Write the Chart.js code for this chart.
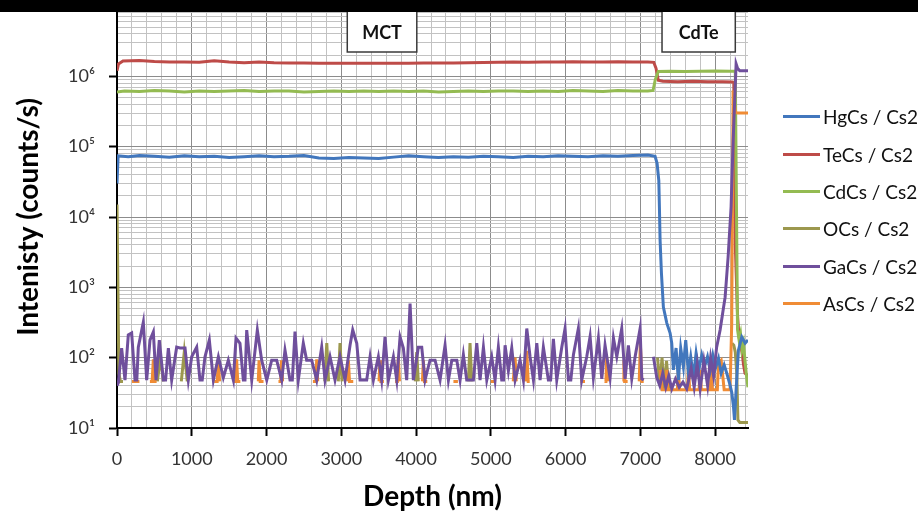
<!DOCTYPE html>
<html>
<head>
<meta charset="utf-8">
<title>SIMS depth profile</title>
<script src="https://cdn.jsdelivr.net/npm/chart.js@4.4.0/dist/chart.umd.min.js"></script>
<style>
  html, body { margin: 0; padding: 0; background: #fff; }
  #wrap { position: relative; width: 918px; height: 516px; overflow: hidden; font-family: Lato, "DejaVu Sans", sans-serif; }
  #chart { position: absolute; left: 0; top: 0; }
  #topBar { position: absolute; left: 0; top: 0; width: 918px; height: 12px; background: #000; }
  #legend { position: absolute; left: 783px; top: 98px; }
  .legend-item { height: 37.4px; display: flex; align-items: center; font-size: 19px; color: #111; white-space: nowrap; }
  .legend-line { width: 37px; height: 3px; margin-right: 3px; }
</style>
</head>
<body>
<div id="wrap">
  <canvas id="chart" width="918" height="516"></canvas>
  <div id="legend"></div>
  <div id="topBar"></div>
</div>
<script>
// axis ticks
const depthTicks = [0, 1000, 2000, 3000, 4000, 5000, 6000, 7000, 8000];
const yDecades = [10, 100, 1000, 10000, 100000, 1000000, 10000000];
const yTickLabels = ['10\u00b9', '10\u00b2', '10\u00b3', '10\u2074', '10\u2075', '10\u2076', '10\u2077'];

// layer labels (depth range in nm)
const layerNames = ['MCT', 'CdTe'];
const layerStart = [3080, 7290];
const layerEnd = [4010, 8270];

const seriesNames = ['HgCs / Cs2', 'TeCs / Cs2', 'CdCs / Cs2', 'OCs / Cs2', 'GaCs / Cs2', 'AsCs / Cs2'];
const seriesColors = ['#4277bd', '#be4b48', '#94bb52', '#9c984e', '#6f4f9c', '#f08c35'];
const drawOrder = [2, 6, 5, 4, 1, 3];

// HgCs
const hgDepth = [0, 15, 150, 300, 500, 700, 900, 1100, 1300, 1500, 1700, 1900, 2100, 2300, 2500, 2700, 2900, 3100, 3300, 3500,
  3700, 3900, 4100, 4300, 4500, 4700, 4900, 5100, 5300, 5500, 5700, 5900, 6100, 6300, 6500, 6700, 6900, 7100,
  7197, 7224, 7247, 7255, 7264, 7282, 7308, 7354, 7398, 7420, 7442, 7478, 7509, 7540, 7576, 7607, 7643, 7674,
  7710, 7746, 7781, 7821, 7857, 7898, 7933, 7969, 8005, 8045, 8081, 8121, 8156, 8192, 8223, 8246, 8259, 8281,
  8312, 8357, 8402, 8440];
const hgValues = [3.0e4, 7.4e4, 7.2e4, 7.5e4, 7.3e4, 7.1e4, 7.4e4, 7.2e4, 7.3e4, 7.0e4, 7.2e4, 7.4e4, 7.2e4, 7.3e4, 7.5e4, 6.9e4, 6.8e4, 7.0e4, 6.9e4, 6.8e4,
  7.1e4, 7.4e4, 7.2e4, 7.0e4, 7.2e4, 7.1e4, 7.3e4, 7.2e4, 7.0e4, 7.3e4, 7.2e4, 7.4e4, 7.3e4, 7.2e4, 7.4e4, 7.3e4, 7.5e4, 7.6e4,
  7.3e4, 5.8e4, 3.3e4, 1.4e4, 4.7e3, 1.6e3, 525, 310, 224, 161, 67, 137, 48, 137, 74, 178, 60, 103,
  53, 116, 67, 109, 74, 103, 67, 109, 71, 98, 60, 79, 60, 44, 32, 20, 13, 35,
  128, 197, 161, 178];

// TeCs
const teDepth = [0, 20, 80, 300, 500, 700, 900, 1100, 1300, 1500, 1700, 1900, 2100, 2300, 2500, 2700, 2900, 3100, 3300, 3500,
  3700, 3900, 4100, 4300, 4500, 4700, 4900, 5100, 5300, 5500, 5700, 5900, 6100, 6300, 6500, 6700, 6900, 7100,
  7180, 7210, 7240, 7300, 7500, 7700, 7900, 8100, 8230, 8250, 8270, 8300, 8320, 8340, 8360, 8380, 8400, 8440];
const teValues = [1.2e6, 1.5e6, 1.65e6, 1.68e6, 1.62e6, 1.6e6, 1.6e6, 1.58e6, 1.66e6, 1.6e6, 1.56e6, 1.6e6, 1.56e6, 1.55e6, 1.55e6, 1.54e6, 1.54e6, 1.53e6, 1.54e6, 1.54e6,
  1.53e6, 1.54e6, 1.55e6, 1.55e6, 1.55e6, 1.56e6, 1.57e6, 1.58e6, 1.6e6, 1.59e6, 1.6e6, 1.6e6, 1.61e6, 1.6e6, 1.6e6, 1.61e6, 1.6e6, 1.6e6,
  1.58e6, 1.3e6, 8.8e5, 8.5e5, 8.4e5, 8.5e5, 8.4e5, 8.4e5, 8.3e5, 8.2e5, 4.0e3, 400, 200, 150, 120, 80, 60, 55];

// CdCs
const cdDepth = [0, 100, 300, 500, 700, 900, 1100, 1300, 1500, 1700, 1900, 2100, 2300, 2500, 2700, 2900, 3100, 3300, 3500,
  3700, 3900, 4100, 4300, 4500, 4700, 4900, 5100, 5300, 5500, 5700, 5900, 6100, 6300, 6500, 6700, 6900, 7100,
  7170, 7200, 7240, 7400, 7600, 7800, 8000, 8200, 8270, 8300, 8320, 8340, 8360, 8380, 8400, 8420, 8440];
const cdValues = [6.0e5, 6.2e5, 6.1e5, 6.3e5, 6.2e5, 6.0e5, 6.2e5, 6.1e5, 6.2e5, 6.3e5, 6.1e5, 6.2e5, 6.2e5, 6.0e5, 6.1e5, 6.2e5, 6.1e5, 6.2e5, 6.1e5,
  6.2e5, 6.1e5, 6.2e5, 6.0e5, 6.1e5, 6.2e5, 6.1e5, 6.2e5, 6.2e5, 6.1e5, 6.2e5, 6.1e5, 6.3e5, 6.2e5, 6.1e5, 6.3e5, 6.2e5, 6.2e5,
  6.3e5, 9.0e5, 1.17e6, 1.18e6, 1.17e6, 1.18e6, 1.19e6, 1.18e6, 1.18e6, 250, 180, 220, 130, 160, 90, 55, 38];

// OCs (null = no counts)
const ocDepth = [0, 25, 45, 80, 90, 540, 580, 620, 630, 860, 900, 940, 950, 2780, 2806, 2830, 2840, 2960, 2983, 3010, 3020,
  3990, 4009, 4030, 4040, 4700, 4722, 4745, 4750, 7230, 7260, 7290, 7320, 7350, 7380, 7400, 7450,
  8225, 8250, 8270, 8290, 8305, 8330, 8440];
const ocValues = [1.5e4, 60, 46, 46, null, 46, 100, 46, null, 46, 120, 46, null, 46, 161, 46, null, 46, 161, 46, null,
  46, 120, 46, null, 46, 161, 46, null, 100, 40, 100, 35, 90, 38, 38, null,
  160, 150, 120, 60, 13, 12, 12];

// GaCs
const gaDepth = [0, 18, 62, 107, 151, 196, 241, 265, 285, 352, 397, 441, 486, 522, 566, 620, 650, 687, 731, 798, 843, 910,
  954, 999, 1066, 1110, 1140, 1177, 1235, 1289, 1356, 1422, 1489, 1556, 1592, 1645, 1690, 1712, 1735, 1802, 1877, 1935, 2003, 2069,
  2136, 2203, 2247, 2314, 2345, 2381, 2425, 2492, 2537, 2604, 2671, 2738, 2783, 2849, 2916, 2983, 3050, 3117, 3153, 3207, 3251,
  3340, 3385, 3429, 3496, 3540, 3585, 3630, 3697, 3742, 3786, 3830, 3875, 3920, 3964, 4031, 4076, 4120, 4187, 4254, 4321,
  4388, 4433, 4478, 4545, 4589, 4633, 4678, 4767, 4812, 4856, 4901, 4946, 5012, 5057, 5101, 5146, 5170, 5191, 5235, 5280, 5325,
  5391, 5436, 5481, 5525, 5570, 5615, 5659, 5703, 5770, 5800, 5837, 5882, 5949, 5993, 6038, 6070, 6105, 6171, 6216, 6283, 6328, 6372,
  6439, 6484, 6528, 6595, 6640, 6685, 6751, 6796, 6840, 6885, 6930, 6997, 7019, 7045, 7100, 7175, 7220, 7260, 7300, 7340,
  7380, 7420, 7470, 7520, 7570, 7620, 7680, 7720, 7760, 7800, 7850, 7900, 7940, 7980, 8020, 8067, 8100, 8134, 8174, 8214,
  8241, 8267, 8281, 8300, 8330, 8380, 8440];
const gaValues = [40, 44, 137, 48, 210, 224, 48, 48, 141, 320, 48, 178, 232, 48, 178, 48, 48, 137, 48, 141, 137, 137,
  48, 103, 141, 48, 48, 103, 178, 48, 103, 52, 92, 48, 190, 160, 48, 48, 247, 48, 247, 92, 48, 92,
  92, 48, 128, 48, 48, 234, 48, 161, 92, 92, 48, 141, 48, 103, 48, 103, 48, 150, 247, 160, 48,
  48, 103, 48, 103, 48, 197, 48, 103, 48, 197, 137, 48, 590, 48, 141, 141, 48, 92, 92, 48,
  150, 48, 92, 92, 48, 110, 48, 48, 161, 48, 141, 48, 103, 48, 141, 48, 48, 150, 65, 137, 48,
  92, 48, 260, 103, 48, 161, 48, 141, 48, 48, 185, 48, 141, 260, 48, 48, 110, 260, 48, 103, 200, 52,
  190, 50, 150, 52, 190, 103, 260, 50, 150, 50, 103, 260, 50, 48, null, 103, 52, 40, 60, 38,
  55, 36, 50, 38, 45, 36, 70, 38, 80, 36, 90, 40, 100, 55, 140, 247, 420, 725, 2700, 14000,
  1.2e5, 6.3e5, 1.5e6, 1.3e6, 1.2e6, 1.2e6, 1.2e6];

// AsCs (null = no counts)
const asDepth = [200, 300, 310, 440, 470, 486, 500, 530, 540, 1300, 1340, 1356, 1372, 1380, 1560, 1590, 1600, 1615, 1650, 1660,
  1890, 1900, 1915, 1960, 1970, 2160, 2190, 2200, 2215, 2220, 2620, 2660, 2671, 2685, 2690, 3085, 3095, 3110, 3160, 3170,
  3505, 3518, 3530, 3570, 3580, 3720, 3750, 3763, 3778, 3790, 4085, 4098, 4112, 4150, 4160, 4500, 4560, 4570, 5000, 5050, 5060,
  5300, 5310, 5325, 5340, 5350, 5460, 5470, 5481, 5500, 5520, 5530, 6200, 6260, 6270, 6520, 6540, 6550, 6565, 6570,
  6770, 6780, 6795, 6830, 6840, 6985, 7000, 7020, 7045, 7100,
  7264, 7290, 7340, 7353, 7370, 7495, 7509, 7525, 7630, 7643, 7660, 7785, 7800, 7815, 7935, 7950, 7965,
  8030, 8045, 8081, 8121, 8200, 8222, 8241, 8270, 8300, 8440];
const asValues = [46, 46, null, 46, 46, 95, 46, 46, null, 46, 46, 92, 46, null, 46, 46, 95, 46, 46, null,
  46, 92, 46, 46, null, 46, 46, 92, 46, null, 46, 46, 95, 46, null, 46, 92, 46, 46, null,
  46, 92, 46, 46, null, 46, 46, 103, 46, null, 46, 92, 46, 46, null, 46, 46, null, 46, 46, null,
  46, 46, 100, 46, null, 46, 46, 125, 46, 46, null, 46, 46, null, 46, 46, 100, 46, null,
  46, 92, 46, 46, null, 46, 161, 46, 46, null,
  67, 35, 35, 67, 35, 35, 70, 35, 35, 74, 35, 35, 67, 35, 35, 67, 35,
  35, 84, 92, 35, 35, 300, 6.3e5, 3.1e5, 3.0e5, 3.0e5];

const seriesDepths = [hgDepth, teDepth, cdDepth, ocDepth, gaDepth, asDepth];
const seriesValues = [hgValues, teValues, cdValues, ocValues, gaValues, asValues];

const fontFamily = 'Lato, "DejaVu Sans", sans-serif';
Chart.defaults.font.family = fontFamily;

function toPoints(depths, values) {
    return depths.map((d, i) => ({ x: d, y: values[i] }));
}

const datasets = seriesNames.map((name, i) => ({
    label: name,
    data: toPoints(seriesDepths[i], seriesValues[i]),
    borderColor: seriesColors[i],
    backgroundColor: seriesColors[i],
    borderWidth: 3,
    pointRadius: 0,
    tension: 0,
    spanGaps: false,
    order: drawOrder[i]
}));

// white boxes naming the layers
const layerBoxes = {
    id: 'layerBoxes',
    afterDatasetsDraw(chart) {
        const { ctx, scales: { x, y } } = chart;
        ctx.save();
        layerNames.forEach((name, i) => {
            const left = x.getPixelForValue(layerStart[i]);
            const right = x.getPixelForValue(layerEnd[i]);
            const top = y.getPixelForValue(1e7) - 4;
            const bottom = 52;
            ctx.fillStyle = '#fff';
            ctx.fillRect(left, top, right - left, bottom - top);
            ctx.strokeStyle = '#3a3a3a';
            ctx.lineWidth = 1.5;
            ctx.strokeRect(left, top, right - left, bottom - top);
            ctx.fillStyle = '#111';
            ctx.font = 'bold 18px ' + fontFamily;
            ctx.textAlign = 'center';
            ctx.textBaseline = 'middle';
            ctx.fillText(name, (left + right) / 2, 33);
        });
        ctx.restore();
    }
};

const ctx = document.getElementById('chart').getContext('2d');
const chart = new Chart(ctx, {
    type: 'line',
    data: { datasets: datasets },
    options: {
        responsive: false,
        animation: false,
        layout: { padding: { top: 6, right: 170, bottom: 0, left: 0 } },
        plugins: {
            legend: { display: false },
            tooltip: { enabled: false }
        },
        scales: {
            x: {
                type: 'linear',
                min: 0,
                max: 8440,
                afterBuildTicks: scale => {
                    const t = [];
                    for (let v = 0; v <= 8400; v += 200) t.push({ value: v, major: v % 1000 === 0 });
                    scale.ticks = t;
                },
                afterFit: scale => {
                    scale.height = 88;
                    scale.paddingLeft = 0;
                    scale.paddingRight = 0;
                },
                ticks: {
                    autoSkip: false,
                    maxRotation: 0,
                    padding: 12,
                    color: '#333',
                    font: { size: 18 },
                    callback: value => depthTicks.includes(value) ? String(value) : ''
                },
                grid: {
                    color: c => c.tick && c.tick.major ? '#8c8c8c' : '#c2c2c2',
                    lineWidth: 1,
                    tickColor: c => c.tick && c.tick.major ? '#000' : 'rgba(0,0,0,0)',
                    tickLength: 8,
                    tickWidth: 2
                },
                border: { color: '#000', width: 2 },
                title: {
                    display: true,
                    text: 'Depth (nm)',
                    color: '#000',
                    font: { size: 28, weight: 'bold' },
                    padding: { top: 0, bottom: 2 }
                }
            },
            y: {
                type: 'logarithmic',
                min: 10,
                max: 1e7,
                afterBuildTicks: scale => {
                    const t = [];
                    yDecades.forEach(d => {
                        for (let k = 1; k <= 9; k++) {
                            if (d * k <= 1e7) t.push({ value: d * k, major: k === 1 });
                        }
                    });
                    scale.ticks = t;
                },
                afterFit: scale => {
                    scale.width = 117;
                    scale.paddingTop = 0;
                    scale.paddingBottom = 0;
                },
                ticks: {
                    autoSkip: false,
                    padding: 14,
                    color: '#333',
                    font: { size: 18 },
                    callback: value => {
                        const i = yDecades.indexOf(value);
                        return i >= 0 ? yTickLabels[i] : '';
                    }
                },
                grid: {
                    color: c => c.tick && c.tick.major ? '#8c8c8c' : '#c2c2c2',
                    lineWidth: 1,
                    tickColor: c => c.tick && c.tick.major ? '#000' : 'rgba(0,0,0,0)',
                    tickLength: 8,
                    tickWidth: 2
                },
                border: { color: '#000', width: 2 },
                title: {
                    display: true,
                    text: 'Intenisty (counts/s)',
                    color: '#000',
                    font: { size: 28, weight: 'bold' },
                    padding: { top: 12, bottom: 0 }
                }
            }
        }
    },
    plugins: [layerBoxes]
});

// legend on the right
const legendBox = document.getElementById('legend');
seriesNames.forEach((name, i) => {
    const item = document.createElement('div');
    item.className = 'legend-item';
    const line = document.createElement('span');
    line.className = 'legend-line';
    line.style.background = seriesColors[i];
    const label = document.createElement('span');
    label.textContent = name;
    item.appendChild(line);
    item.appendChild(label);
    legendBox.appendChild(item);
});
</script>
</body>
</html>
